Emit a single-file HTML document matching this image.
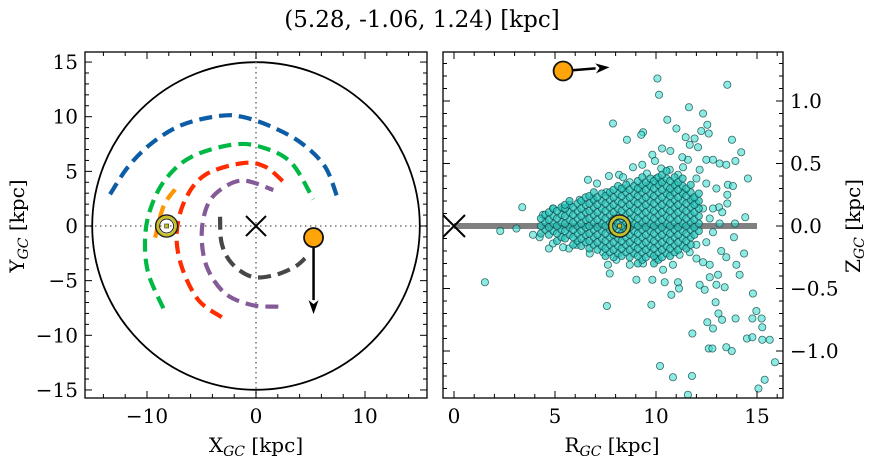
<!DOCTYPE html>
<html><head><meta charset="utf-8">
<style>
html,body{margin:0;padding:0;background:#fff;}
svg{display:block;font-family:"DejaVu Serif","Liberation Serif",serif;}
</style></head>
<body>
<svg id="fig" width="874" height="464" viewBox="0 0 874 464">
<text x="422" y="27" text-anchor="middle" font-size="23" fill="#000">(5.28, -1.06, 1.24) [kpc]</text>
</svg>
<script>
// ---------- data ----------
const starXY = [5.28, -1.06];
const starVel = [0.0, -7.0];
const sunXY = [-8.2, 0];
const starRZ = [5.4, 1.24];
const starRZVel = [2.3, 0.03];
const sunRZ = [8.2, 0.0];
const armBlueX = [-13.39,-11.72,-9.57,-6.82,-3.46,-1.31,1.44,4.19,6.33,7.46];
const armBlueY = [2.90,5.43,7.57,9.24,10.06,10.0,9.08,7.57,5.43,2.63];
const armGreenX = [-8.50,-9.88,-10.18,-9.72,-8.35,-5.90,-1.93,0.83,3.28,5.26];
const armGreenY = [-7.53,-4.33,-1.28,1.46,4.21,6.34,7.47,7.11,5.74,2.44];
const armOrangeX = [-7.43,-8.50,-9.27];
const armOrangeY = [3.36,1.77,-1.13];
const armRedX = [-3.15,-5.29,-6.82,-7.28,-6.51,-4.68,-1.31,0.83,2.82];
const armRedY = [-8.35,-6.77,-3.72,-0.67,2.38,4.67,5.74,5.43,3.75];
const armPurpleX = [2.05,-0.39,-2.84,-4.52,-4.98,-4.37,-2.84,-1.01,1.59];
const armPurpleY = [-7.38,-7.23,-6.16,-3.72,-0.67,2.08,3.60,4.15,3.29];
const armGrayX = [-3.30,-3.15,-2.23,-0.39,1.74,3.58,4.50];
const armGrayY = [0.85,-1.58,-3.41,-4.64,-4.48,-3.72,-2.96];
const leftXTicks = [-10,0,10];
const leftYTicks = [-15,-10,-5,0,5,10,15];
const rightXTicks = [0,5,10,15];
const rightYTicks = [-1.0,-0.5,0.0,0.5,1.0];
const outR = [10.07,10.15,13.53,11.63,12.33,7.87,10.56,11.01,9.36,9.27,12.54,12.61,8.56,12.24,13.76,11.47,11.91,11.67,12.08,10.30,10.71,14.22,9.82,9.95,11.58,11.30,14.55,6.63,7.08,3.38,2.29,3.09,3.91,4.70,5.69,1.53,7.57,9.77,14.42,13.91,13.86,14.36,13.98,14.14,14.80,14.97,14.77,15.23,15.26,14.50,14.77,15.26,15.63,15.89,15.38,15.07,11.58,10.20,10.84,11.78,11.80,12.54,12.82,13.09,12.95,12.61,12.79,13.48,13.75,13.94,13.27,13.40,12.99,12.41,12.16,11.09,10.76,11.14,10.43,9.82,9.03,7.71,7.62,13.48,13.23,13.07,12.66,13.56,13.81,13.53,13.53,13.12,13.28,12.0,12.82,13.15,13.48,13.93,12.49,12.16,11.34,11.09,10.68,10.26,9.32,8.86,8.17,7.67,8.37,8.70,9.55,10.02,11.01,12.0,12.49,12.99,12.66,12.33,12.0,11.67,11.17,10.84,10.35,10.02,9.36,8.70,8.04,7.38,6.72,6.06,5.40,4.90,4.24,4.41,4.90,5.40,6.22,6.88,7.54,8.37,9.19,9.69,10.18,10.68,11.34,11.83,12.33,12.66,12.82,12.49,12.0,13.15,12.82];
const outZ = [1.18,1.05,1.13,0.95,0.90,0.82,0.85,0.78,0.75,0.73,0.81,0.74,0.69,0.76,0.69,0.71,0.70,0.65,0.63,0.62,0.60,0.59,0.57,0.52,0.53,0.55,0.38,0.37,0.34,0.15,-0.04,-0.02,-0.07,-0.18,-0.18,-0.45,-0.64,-0.63,0.07,0.02,-0.09,-0.22,-0.31,-0.39,-0.54,-0.68,-0.74,-0.74,-0.81,-0.90,-0.89,-0.91,-0.91,-1.09,-1.23,-1.30,-1.35,-1.12,-1.21,-1.20,-0.86,-0.77,-0.82,-0.70,-0.61,-0.98,-0.98,-0.97,-1.00,-0.74,-0.75,-0.49,-0.47,-0.51,-0.47,-0.45,-0.55,-0.50,-0.45,-0.43,-0.43,-0.38,-0.31,-0.25,-0.20,-0.39,-0.41,0.33,0.32,0.25,0.18,0.15,0.11,0.18,0.53,0.50,0.49,0.52,0.53,0.45,0.47,0.41,0.45,0.46,0.49,0.47,0.41,0.40,0.39,0.35,0.42,0.38,0.33,0.38,0.34,0.30,-0.31,-0.29,-0.26,-0.21,-0.23,-0.31,-0.35,-0.26,-0.30,-0.31,-0.27,-0.21,-0.22,-0.15,-0.17,-0.14,-0.09,0.09,0.14,0.14,0.21,0.22,0.27,0.30,0.30,0.33,0.35,0.27,0.27,0.22,0.14,0.06,-0.05,-0.13,-0.15,0.02,0.14];
const coreR = [4.4,4.8,5.2,5.6,6.0,6.4,6.8,7.2,7.6,8.0,8.4,8.8,9.2,9.6,10.0,10.4,10.8,11.2,11.6,12.0];
const coreZ = [
 [-0.06,0,0.06],
 [-0.09,-0.03,0.03,0.09],
 [-0.12,-0.06,0,0.06,0.12],
 [-0.12,-0.06,0,0.06,0.12,0.15],
 [-0.15,-0.09,-0.03,0.03,0.09,0.15],
 [-0.18,-0.12,-0.06,0,0.06,0.12,0.18],
 [-0.18,-0.12,-0.06,0,0.06,0.12,0.18,0.24],
 [-0.21,-0.15,-0.09,-0.03,0.03,0.09,0.15,0.21],
 [-0.24,-0.18,-0.12,-0.06,0,0.06,0.12,0.18,0.24],
 [-0.27,-0.21,-0.15,-0.09,-0.03,0.03,0.09,0.15,0.21,0.27],
 [-0.24,-0.18,-0.12,-0.06,0,0.06,0.12,0.18,0.24,0.30],
 [-0.27,-0.21,-0.15,-0.09,-0.03,0.03,0.09,0.15,0.21,0.27],
 [-0.30,-0.24,-0.18,-0.12,-0.06,0,0.06,0.12,0.18,0.24,0.30,0.36],
 [-0.27,-0.21,-0.15,-0.09,-0.03,0.03,0.09,0.15,0.21,0.27,0.33],
 [-0.30,-0.24,-0.18,-0.12,-0.06,0,0.06,0.12,0.18,0.24,0.30,0.36],
 [-0.27,-0.21,-0.15,-0.09,-0.03,0.03,0.09,0.15,0.21,0.27,0.33,0.39],
 [-0.24,-0.18,-0.12,-0.06,0,0.06,0.12,0.18,0.24,0.30,0.36],
 [-0.21,-0.15,-0.09,-0.03,0.03,0.09,0.15,0.21,0.27,0.33],
 [-0.18,-0.12,-0.06,0,0.06,0.12,0.18,0.24,0.30],
 [-0.09,-0.03,0.03,0.09,0.15,0.21]
];

// ---------- helpers ----------
const NS = "http://www.w3.org/2000/svg";
const svg = document.getElementById('fig');
function mk(tag, attrs, parent){
  const e = document.createElementNS(NS, tag);
  for (const k in attrs) e.setAttribute(k, attrs[k]);
  (parent||svg).appendChild(e);
  return e;
}
const L = {x0:85, x1:427, y0:52, y1:398};
const lx = v => 256 + v*10.9;
const ly = v => 226 - v*10.93;
const R = {x0:443, x1:783, y0:52, y1:398};
const rx = v => 454 + v*20.2;
const ry = v => 226 - v*125;

function clip(id, b){
  const d = mk('defs',{});
  const c = mk('clipPath',{id:id}, d);
  mk('rect',{x:b.x0,y:b.y0,width:b.x1-b.x0,height:b.y1-b.y0}, c);
}
clip('clipL', L); clip('clipR', R);

// ---------- left panel ----------
const gL = mk('g',{'clip-path':'url(#clipL)'});


const circ = mk('circle',{cx:lx(0),cy:ly(0),r:15*10.92,fill:'none',stroke:'#000','stroke-width':1.8},gL);


const hl = mk('line',{x1:L.x0,x2:L.x1,y1:ly(0),y2:ly(0),stroke:'#777','stroke-width':1.6,'stroke-dasharray':'1.5 3.5'},gL);


const vl = mk('line',{x1:lx(0),x2:lx(0),y1:L.y0,y2:L.y1,stroke:'#777','stroke-width':1.6,'stroke-dasharray':'1.5 3.5'},gL);



function smoothPath(xs, ys){
  const P = xs.map((x,i)=>[lx(x), ly(ys[i])]);
  let d = `M${P[0][0]},${P[0][1]}`;
  for (let i=0;i<P.length-1;i++){
    const p0=P[Math.max(0,i-1)], p1=P[i], p2=P[i+1], p3=P[Math.min(P.length-1,i+2)];
    const c1=[p1[0]+(p2[0]-p0[0])/6, p1[1]+(p2[1]-p0[1])/6];
    const c2=[p2[0]-(p3[0]-p1[0])/6, p2[1]-(p3[1]-p1[1])/6];
    d += ` C${c1[0]},${c1[1]} ${c2[0]},${c2[1]} ${p2[0]},${p2[1]}`;
  }
  return d;
}
function arm(xs, ys, color, name){
  const p = mk('path',{d:smoothPath(xs,ys),fill:'none',stroke:color,'stroke-width':4.2,'stroke-dasharray':'13 7'},gL);
  
  
}
arm(armBlueX, armBlueY, '#0c5da5', 'arm-blue');
arm(armGreenX, armGreenY, '#00b945', 'arm-green');
arm(armOrangeX, armOrangeY, '#ff9500', 'arm-orange');
arm(armRedX, armRedY, '#ff2c00', 'arm-red');
arm(armPurpleX, armPurpleY, '#845b97', 'arm-purple');
arm(armGrayX, armGrayY, '#474747', 'arm-gray');

function cross(cx, cy, s, parent, name){
  const g = mk('g',{stroke:'#000','stroke-width':2},parent);
  
  
  mk('line',{x1:cx-s,y1:cy-s,x2:cx+s,y2:cy+s},g);
  mk('line',{x1:cx-s,y1:cy+s,x2:cx+s,y2:cy-s},g);
}
cross(lx(0), ly(0), 10, gL, 'galactic-center-marker');

function sun(cx, cy, parent, name){
  const g = mk('g',{},parent);
  
  
  mk('circle',{cx:cx,cy:cy,r:11,fill:'none',stroke:'#222','stroke-width':1.5},g);
  mk('circle',{cx:cx,cy:cy,r:9,fill:'none',stroke:'#c8c020','stroke-width':2.5},g);
  mk('circle',{cx:cx,cy:cy,r:7,fill:'none',stroke:'#222','stroke-width':1},g);
  mk('rect',{x:cx-2,y:cy-2,width:4,height:4,fill:'#c8c020',stroke:'#222','stroke-width':0.6},g);
}
sun(lx(sunXY[0]), ly(sunXY[1]), gL, 'sun-marker-left');

function arrowStar(sx, sy, ex, ey, parent, name){
  const g = mk('g',{},parent);
  
  
  const dx=ex-sx, dy=ey-sy, len=Math.hypot(dx,dy), ux=dx/len, uy=dy/len;
  const hx=ex-ux*14, hy=ey-uy*14;
  mk('line',{x1:sx,y1:sy,x2:hx,y2:hy,stroke:'#000','stroke-width':2.5},g);
  mk('polygon',{points:`${ex},${ey} ${hx-uy*5},${hy+ux*5} ${hx+ux*4},${hy+uy*4} ${hx+uy*5},${hy-ux*5}`,fill:'#000'},g);
  mk('circle',{cx:sx,cy:sy,r:9.5,fill:'#ffa50a',stroke:'#111','stroke-width':1.8},g);
}
arrowStar(lx(starXY[0]), ly(starXY[1]), lx(starXY[0]+starVel[0]), ly(starXY[1]+starVel[1]), svg, 'star-position-left');

// ---------- right panel ----------
const gR = mk('g',{'clip-path':'url(#clipR)'});


const disk = mk('line',{x1:rx(0),x2:rx(15),y1:ry(0),y2:ry(0),stroke:'#808080','stroke-width':6},gR);


cross(rx(0), ry(0), 11, gR, 'galactic-center-marker-right');
const gS = mk('g',{},gR);


function pt(r, z, dense){
  const c = mk('circle',{cx:rx(r),cy:ry(z),r:3.6,fill:dense?'rgba(40,200,190,0.75)':'rgba(64,224,208,0.6)',stroke:'rgba(15,70,70,0.8)','stroke-width':0.8},gS);
  
  
}
for (let i=0;i<outR.length;i++) pt(outR[i], outZ[i], false);
for (let i=0;i<coreR.length;i++){
  for (let j=0;j<coreZ[i].length;j++){
    pt(coreR[i] - 0.1, coreZ[i][j] + ((i%2)?0.02:0), true);
    pt(coreR[i] + 0.12, coreZ[i][j] + ((i%2)?0.05:0.03), true);
  }
}
sun(rx(sunRZ[0]), ry(sunRZ[1]), gR, 'sun-marker-right');
arrowStar(rx(starRZ[0]), ry(starRZ[1]), rx(starRZ[0]+starRZVel[0]), ry(starRZ[1]+starRZVel[1]), gR, 'star-position-right');

// ---------- axes ----------
function frame(b, name){
  const r = mk('rect',{x:b.x0,y:b.y0,width:b.x1-b.x0,height:b.y1-b.y0,fill:'none',stroke:'#000','stroke-width':1.3});
  
  
}
frame(L,'left-axes-frame'); frame(R,'right-axes-frame');
function ticks(b, fx, fy, xmin, xmax, xmaj, xminStep, ymin, ymax, ymaj, yminStep){
  const g = mk('g',{stroke:'#000','stroke-width':1});
  for (let v=Math.ceil(xmin/xminStep)*xminStep; v<=xmax+1e-9; v+=xminStep){
    const X=fx(v); if (X<b.x0||X>b.x1) continue;
    const maj = Math.abs(v/xmaj - Math.round(v/xmaj))<1e-6;
    const s = maj?7:4;
    mk('line',{x1:X,x2:X,y1:b.y1,y2:b.y1-s},g);
    mk('line',{x1:X,x2:X,y1:b.y0,y2:b.y0+s},g);
  }
  for (let v=Math.ceil(ymin/yminStep)*yminStep; v<=ymax+1e-9; v+=yminStep){
    const Y=fy(v); if (Y<b.y0||Y>b.y1) continue;
    const maj = Math.abs(v/ymaj - Math.round(v/ymaj))<1e-6;
    const s = maj?7:4;
    mk('line',{x1:b.x0,x2:b.x0+s,y1:Y,y2:Y},g);
    mk('line',{x1:b.x1,x2:b.x1-s,y1:Y,y2:Y},g);
  }
}
ticks(L, lx, ly, -16, 16, 10, 2, -16, 16, 5, 1);
ticks(R, rx, ry, -1, 17, 5, 1, -1.4, 1.4, 0.5, 0.1);

function label(x, y, txt, anchor, name){
  const t = mk('text',{x:x,y:y,'text-anchor':anchor,'font-size':20,fill:'#000'});
  t.textContent = txt;
  
  
}
const fmt = v => (v<0?'\u2212':'') + Math.abs(v);
leftXTicks.forEach(v => label(lx(v), 423, fmt(v), 'middle', 'left-x-tick-label'));
leftYTicks.forEach(v => label(78, ly(v)+7, fmt(v), 'end', 'left-y-tick-label'));
rightXTicks.forEach(v => label(rx(v), 423, fmt(v), 'middle', 'right-x-tick-label'));
rightYTicks.forEach(v => label(790, ry(v)+7, (v<0?'\u2212':'') + Math.abs(v).toFixed(1), 'start', 'right-y-tick-label'));

function axisTitle(x, y, main, sub, rot, name){
  const t = mk('text',{x:x,y:y,'text-anchor':'middle','font-size':20,fill:'#000'});
  if (rot) t.setAttribute('transform',`rotate(-90 ${x} ${y})`);
  const a = mk('tspan',{},t); a.textContent = main;
  const b = mk('tspan',{dy:4,'font-size':14,'font-style':'italic'},t); b.textContent = sub;
  const c = mk('tspan',{dy:-4},t); c.textContent = ' [kpc]';
  
  
}
axisTitle(256, 452, 'X', 'GC', false, 'left-x-axis-title');
axisTitle(24, 226, 'Y', 'GC', true, 'left-y-axis-title');
axisTitle(612, 452, 'R', 'GC', false, 'right-x-axis-title');
axisTitle(860, 226, 'Z', 'GC', true, 'right-y-axis-title');
</script>
</body></html>
